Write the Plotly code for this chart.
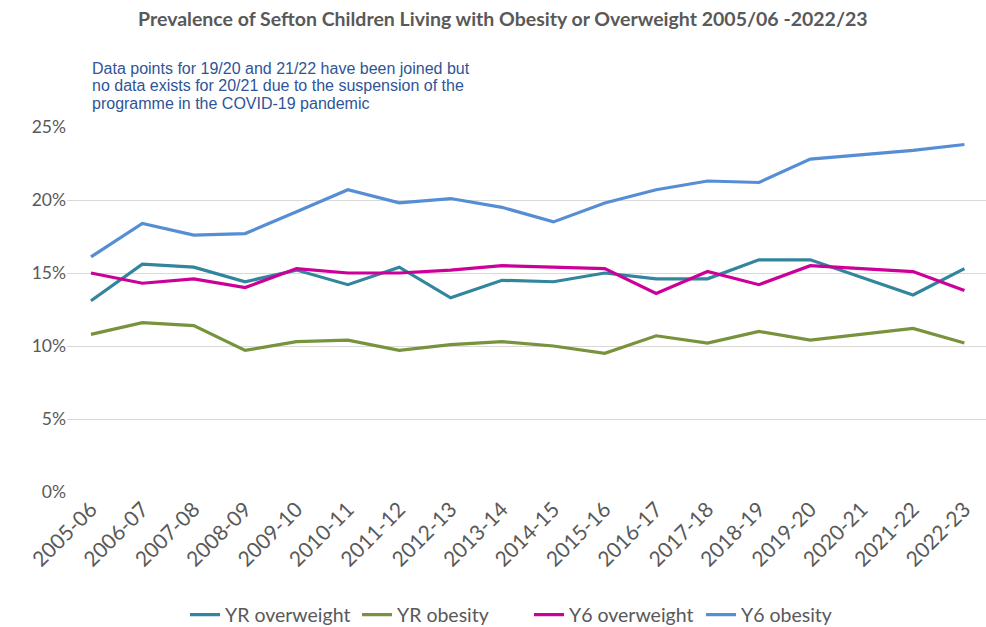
import plotly.graph_objects as go

years = ["2005-06", "2006-07", "2007-08", "2008-09", "2009-10", "2010-11", "2011-12",
         "2012-13", "2013-14", "2014-15", "2015-16", "2016-17", "2017-18", "2018-19",
         "2019-20", "2020-21", "2021-22", "2022-23"]

yr_overweight = [13.1, 15.6, 15.4, 14.4, 15.2, 14.2, 15.4, 13.3, 14.5, 14.4, 15.0, 14.6,
                 14.6, 15.9, 15.9, None, 13.5, 15.3]
yr_obesity = [10.8, 11.6, 11.4, 9.7, 10.3, 10.4, 9.7, 10.1, 10.3, 10.0, 9.5, 10.7,
              10.2, 11.0, 10.4, None, 11.2, 10.2]
y6_overweight = [15.0, 14.3, 14.6, 14.0, 15.3, 15.0, 15.0, 15.2, 15.5, 15.4, 15.3, 13.6,
                 15.1, 14.2, 15.5, None, 15.1, 13.8]
y6_obesity = [16.1, 18.4, 17.6, 17.7, 19.2, 20.7, 19.8, 20.1, 19.5, 18.5, 19.8, 20.7,
              21.3, 21.2, 22.8, None, 23.4, 23.8]

note_lines = [
    "Data points for 19/20 and 21/22 have been joined but",
    "no data exists for 20/21 due to the suspension of the",
    "programme in the COVID-19 pandemic",
]

series = [
    ("YR overweight", yr_overweight, "#31859C"),
    ("YR obesity", yr_obesity, "#77933C"),
    ("Y6 overweight", y6_overweight, "#CC0099"),
    ("Y6 obesity", y6_obesity, "#558ED5"),
]

fig = go.Figure()
for name, vals, col in series:
    fig.add_trace(go.Scatter(
        x=years, y=[v / 100 if v is not None else None for v in vals],
        mode="lines", name=name, connectgaps=True,
        line=dict(color=col, width=3.2),
    ))

font_main = "Lato, Carlito, Liberation Sans, sans-serif"

fig.update_layout(
    width=986, height=627,
    margin=dict(l=67, r=0, t=127, b=135, autoexpand=False),
    paper_bgcolor="white", plot_bgcolor="white",
    title=dict(
        text="<b>Prevalence of Sefton Children Living with Obesity or Overweight 2005/06 -2022/23</b>",
        x=0.51, xanchor="center", y=0.970, yanchor="middle",
        font=dict(family=font_main, size=19.5, color="#595959"),
    ),
    xaxis=dict(
        type="category", range=[-0.467, 17.42],
        tickangle=-45, showgrid=False, showline=False, ticks="",
        tickfont=dict(family=font_main, size=21, color="#595959"),
    ),
    yaxis=dict(
        range=[0, 0.25], tickvals=[0, 0.05, 0.10, 0.15, 0.20, 0.25],
        tickformat=".0%", showgrid=True, gridcolor="#D9D9D9", gridwidth=1.3,
        zeroline=False, showline=False, ticks="",
        tickfont=dict(family=font_main, size=17.5, color="#595959"),
    ),
    legend=dict(
        orientation="h", x=(185 - 67) / 919, xanchor="left",
        y=-(615 - 492) / 365, yanchor="middle",
        font=dict(family=font_main, size=19.5, color="#595959"),
        itemwidth=30, traceorder="normal",
        entrywidth=127, entrywidthmode="pixels",
    ),
    showlegend=True,
)

for i, line in enumerate(note_lines):
    fig.add_annotation(
        text=line,
        xref="paper", yref="paper", x=(90 - 67) / 919, xanchor="left",
        y=(492 - (68 + 18 * i)) / 365, yanchor="middle", align="left", showarrow=False,
        font=dict(family="Liberation Sans, Arial, sans-serif", size=16, color="#2E5597"),
    )

fig.write_html("out.html")
